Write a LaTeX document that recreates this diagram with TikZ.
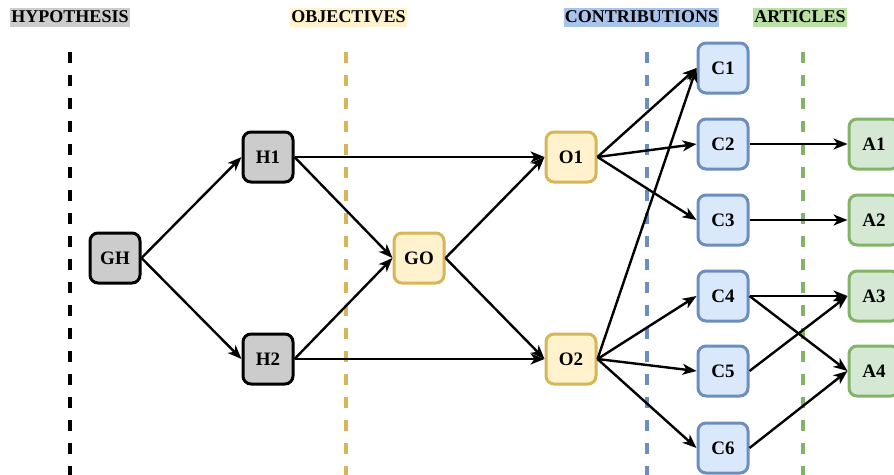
\documentclass[tikz,border=0pt]{standalone}
\usepackage{fontspec}
\setmainfont{Liberation Serif}
\usetikzlibrary{arrows.meta}
\definecolor{gfill}{HTML}{CCCCCC}
\definecolor{yfill}{HTML}{FFF2CC}
\definecolor{ydraw}{HTML}{D6B656}
\definecolor{bfill}{HTML}{DAE8FC}
\definecolor{bdraw}{HTML}{6C8EBF}
\definecolor{bhead}{HTML}{A9C4EB}
\definecolor{gnfill}{HTML}{D5E8D4}
\definecolor{gndraw}{HTML}{82B366}
\definecolor{gnhead}{HTML}{B9E0A5}
\tikzset{
  box/.style={rounded corners=8pt, line width=3pt, minimum width=50pt, minimum height=50pt,
    inner sep=0pt, font=\fontsize{19}{22}\selectfont\bfseries},
  hbox/.style={box, draw=black, fill=gfill},
  obox/.style={box, draw=ydraw, fill=yfill},
  cbox/.style={box, draw=bdraw, fill=bfill},
  abox/.style={box, draw=gndraw, fill=gnfill},
  head/.style={inner xsep=1pt, inner ysep=0pt, minimum height=19pt, font=\fontsize{18}{21}\selectfont\bfseries},
  sep/.style={line width=3.5pt, dash pattern=on 11pt off 12pt},
  arr/.style={line width=2.4pt, -{Stealth[length=14pt,width=11pt,inset=4pt]}}
}
\begin{document}
\begin{tikzpicture}[x=1pt,y=-1pt]
\useasboundingbox (0,0) rectangle (894,474);
\clip (0,0) rectangle (894,474);
% headers
\node[head, fill=gfill] (hh) at (70,17) {HYPOTHESIS};
\node[head, fill=yfill] (ho) at (348.5,17) {OBJECTIVES};
\node[head, fill=bhead] (hc) at (641.5,17) {CONTRIBUTIONS};
\node[head, fill=gnhead] (ha) at (800,17) {ARTICLES};
% separators
\coordinate (s1t) at (70,52); \coordinate (s1b) at (70,480);
\coordinate (s2t) at (346,52); \coordinate (s2b) at (346,480);
\coordinate (s3t) at (647,52); \coordinate (s3b) at (647,480);
\coordinate (s4t) at (803,52); \coordinate (s4b) at (803,480);
\draw[sep, black] (s1t) -- (s1b);
\draw[sep, ydraw] (s2t) -- (s2b);
\draw[sep, bdraw] (s3t) -- (s3b);
\draw[sep, gndraw] (s4t) -- (s4b);
% nodes
\node[hbox] (GH) at (115,258) {GH};
\node[hbox] (H1) at (268,157) {H1};
\node[hbox] (H2) at (268,359) {H2};
\node[obox] (GO) at (419,258) {GO};
\node[obox] (O1) at (571,157) {O1};
\node[obox] (O2) at (571,359) {O2};
\node[cbox] (C1) at (723,68) {C1};
\node[cbox] (C2) at (723,144) {C2};
\node[cbox] (C3) at (723,220) {C3};
\node[cbox] (C4) at (723,296) {C4};
\node[cbox] (C5) at (723,371) {C5};
\node[cbox] (C6) at (723,448) {C6};
\node[abox] (A1) at (874,144) {A1};
\node[abox] (A2) at (874,220) {A2};
\node[abox] (A3) at (874,296) {A3};
\node[abox] (A4) at (874,371) {A4};
% edges
\draw[arr] (GH.east) -- (H1.west);
\draw[arr] (GH.east) -- (H2.west);
\draw[arr] (H1.east) -- (O1.west);
\draw[arr] (H1.east) -- (GO.west);
\draw[arr] (H2.east) -- (GO.west);
\draw[arr] (H2.east) -- (O2.west);
\draw[arr] (GO.east) -- (O1.west);
\draw[arr] (GO.east) -- (O2.west);
\draw[arr] (O1.east) -- (C1.west);
\draw[arr] (O1.east) -- (C2.west);
\draw[arr] (O1.east) -- (C3.west);
\draw[arr] (O2.east) -- (C1.west);
\draw[arr] (O2.east) -- (C4.west);
\draw[arr] (O2.east) -- (C5.west);
\draw[arr] (O2.east) -- (C6.west);
\draw[arr] (C2.east) -- (A1.west);
\draw[arr] (C3.east) -- (A2.west);
\draw[arr] (C4.east) -- (A3.west);
\draw[arr] (C4.east) -- (A4.west);
\draw[arr] (C5.east) -- (A3.west);
\draw[arr] (C6.east) -- (A4.west);
\end{tikzpicture}
\end{document}
